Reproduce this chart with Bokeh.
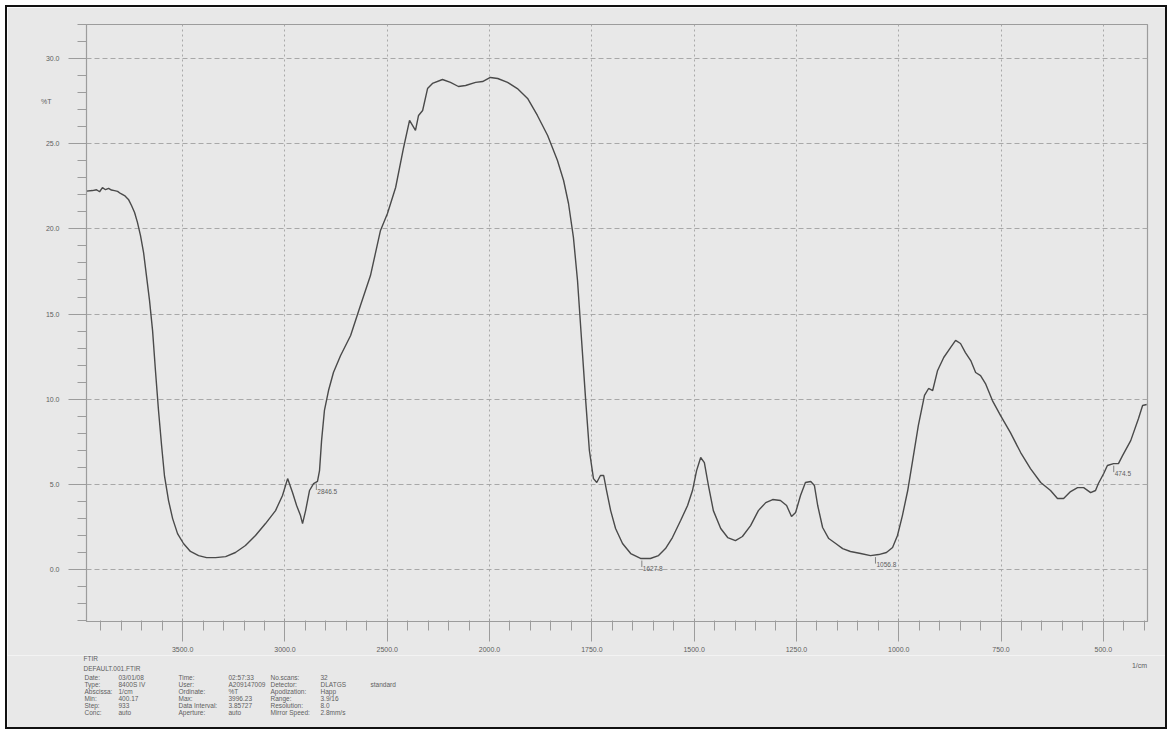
import numpy as np
from bokeh.plotting import figure
from bokeh.layouts import column
from bokeh.models import FixedTicker, LinearAxis, Range1d, ColumnDataSource
from bokeh.embed import file_html
from bokeh.resources import INLINE
from bokeh.core.properties import value

# FTIR transmittance spectrum (wavenumber in 1/cm, transmittance in %T)
wavenumber = [
    3970, 3941, 3921, 3906, 3892, 3877, 3862, 3848, 3833, 3818, 3804, 3784,
    3765, 3750, 3735, 3721, 3706, 3691, 3677, 3662, 3647, 3633, 3618, 3603,
    3589, 3569, 3549, 3525, 3496, 3462, 3422, 3383, 3339, 3290, 3242, 3193,
    3144, 3095, 3046, 3012, 2987, 2963, 2943, 2924, 2914, 2899, 2880, 2860,
    2841, 2831, 2821, 2807, 2787, 2763, 2728, 2679, 2631, 2582, 2533, 2499,
    2459, 2420, 2391, 2362, 2347, 2327, 2303, 2279, 2230, 2191, 2152, 2117,
    2068, 2034, 1998, 1980, 1956, 1932, 1907, 1883, 1858, 1834, 1819, 1807,
    1795, 1785, 1775, 1765, 1756, 1746, 1738, 1729, 1721, 1714, 1704, 1692,
    1675, 1655, 1631, 1607, 1587, 1570, 1553, 1533, 1516, 1504, 1494, 1484,
    1475, 1465, 1453, 1435, 1418, 1399, 1382, 1362, 1343, 1325, 1308, 1289,
    1274, 1262, 1252, 1240, 1228, 1215, 1206, 1198, 1186, 1171, 1154, 1137,
    1118, 1093, 1069, 1049, 1030, 1015, 1003, 991, 978, 966, 952, 937,
    927, 917, 905, 890, 873, 861, 849, 837, 824, 812, 800, 788,
    771, 751, 727, 702, 678, 653, 629, 612, 597, 580, 563, 548,
    531, 519, 512, 499, 490, 475, 463, 453, 433, 414, 404, 394,
]
transmittance = [
    22.22, 22.25, 22.30, 22.18, 22.42, 22.30, 22.38, 22.28, 22.25, 22.20, 22.08, 21.96,
    21.73, 21.37, 20.96, 20.38, 19.61, 18.61, 17.26, 15.80, 14.03, 11.69, 9.34, 7.28,
    5.52, 4.05, 2.99, 2.11, 1.53, 1.06, 0.82, 0.70, 0.70, 0.76, 1.00, 1.41,
    2.00, 2.70, 3.46, 4.35, 5.34, 4.52, 3.76, 3.17, 2.70, 3.46, 4.64, 5.05,
    5.17, 5.81, 7.57, 9.34, 10.51, 11.57, 12.57, 13.74, 15.50, 17.26, 19.91, 20.90,
    22.43, 24.78, 26.37, 25.78, 26.66, 26.95, 28.24, 28.54, 28.77, 28.60, 28.36, 28.42,
    28.60, 28.65, 28.89, 28.83, 28.60, 28.24, 27.66, 26.66, 25.48, 24.02, 22.84, 21.49,
    19.50, 16.97, 13.45, 9.92, 6.99, 5.34, 5.11, 5.52, 5.52, 4.64, 3.46, 2.41,
    1.53, 0.94, 0.65, 0.65, 0.82, 1.23, 1.88, 2.88, 3.76, 4.64, 5.81, 6.58,
    6.28, 4.93, 3.46, 2.41, 1.88, 1.70, 1.94, 2.58, 3.46, 3.93, 4.11, 4.05,
    3.76, 3.11, 3.35, 4.35, 5.11, 5.17, 4.93, 3.76, 2.47, 1.82, 1.53, 1.23,
    1.06, 0.94, 0.82, 0.88, 1.00, 1.29, 2.00, 3.17, 4.64, 6.40, 8.46, 10.22,
    10.63, 10.51, 11.69, 12.45, 13.04, 13.45, 13.27, 12.74, 12.27, 11.57, 11.39, 10.92,
    9.92, 9.04, 8.04, 6.87, 5.93, 5.11, 4.64, 4.17, 4.17, 4.58, 4.81, 4.81,
    4.52, 4.64, 5.05, 5.64, 6.11, 6.22, 6.22, 6.69, 7.57, 8.87, 9.63, 9.69,
]

# Picked peaks (wavenumber and %T at the peak)
peak_wn = [2846.5, 1627.8, 1056.8, 474.5]
peak_t = [5.17, 0.65, 0.85, 6.22]

# Axis ticks
x_tick_wn = [3500, 3000, 2500, 2000, 1750, 1500, 1250, 1000, 750, 500]
y_tick_t = [0, 5, 10, 15, 20, 25, 30]

# Instrument record printed under the chart
record_title = "DEFAULT.001.FTIR"
record_rows = [
    ["Date:", "03/01/08", "Time:", "02:57:33", "No.scans:", "32", ""],
    ["Type:", "8400S IV", "User:", "A209147009", "Detector:", "DLATGS", "standard"],
    ["Abscissa:", "1/cm", "Ordinate:", "%T", "Apodization:", "Happ", ""],
    ["Min:", "400.17", "Max:", "3996.23", "Range:", "3.9/16", ""],
    ["Step:", "933", "Data Interval:", "3.85727", "Resolution:", "8.0", ""],
    ["Conc:", "auto", "Aperture:", "auto", "Mirror Speed:", "2.8mm/s", ""],
]


def to_u(wn):
    """Split abscissa: 4000-2000 1/cm at half the scale of 2000-400 1/cm."""
    wn = np.asarray(wn, dtype=float)
    return np.where(wn >= 2000, (4000.0 - wn) / 500.0, 4.0 + (2000.0 - wn) / 250.0)


minor_wn = [w for w in range(3900, 2000, -100) if w % 500] + \
           [w for w in range(1950, 380, -50) if w % 250]

X0, X1 = float(to_u(3970)), float(to_u(392))
Y0, Y1 = -3.05, 32.0

W = 1158
H_MAIN = 648
H_INFO = 72

BG = "#e8e8e8"
AX = "#9c9c9c"
TXT = "#5e5e5e"
FONT = "Liberation Sans"
FS = "7px"

p = figure(
    width=W, height=H_MAIN,
    x_range=Range1d(X0, X1), y_range=Range1d(Y0, Y1),
    output_backend="svg", toolbar_location=None,
    min_border_left=79, min_border_right=18, min_border_top=17, min_border_bottom=34,
    background_fill_color=BG, border_fill_color=BG,
    outline_line_color=AX, outline_line_width=1.2,
)
p.frame_align = False

# x axis
xt = [float(u) for u in to_u(x_tick_wn)]
p.xaxis.ticker = FixedTicker(ticks=xt, minor_ticks=[float(u) for u in to_u(minor_wn)])
p.xaxis.major_label_overrides = {int(round(u)): f"{w:.1f}" for u, w in zip(xt, x_tick_wn)}
p.xaxis.axis_line_color = AX
p.xaxis.major_tick_line_color = AX
p.xaxis.minor_tick_line_color = AX
p.xaxis.major_tick_in = 3
p.xaxis.major_tick_out = 20
p.xaxis.minor_tick_in = 1
p.xaxis.minor_tick_out = 9
p.xaxis.major_label_standoff = 5
p.xaxis.major_label_text_font_size = FS
p.xaxis.major_label_text_color = TXT
p.xaxis.major_label_text_font = FONT

# y axis
p.yaxis.ticker = FixedTicker(ticks=y_tick_t, minor_ticks=list(range(-3, 33)))
p.yaxis.major_label_overrides = {t: f"{t:.1f}" for t in y_tick_t}
p.yaxis.axis_line_color = AX
p.yaxis.major_tick_line_color = AX
p.yaxis.minor_tick_line_color = AX
p.yaxis.major_tick_in = 0
p.yaxis.major_tick_out = 18
p.yaxis.minor_tick_in = 0
p.yaxis.minor_tick_out = 9
p.yaxis.major_label_standoff = 9
p.yaxis.major_label_text_font_size = FS
p.yaxis.major_label_text_color = TXT
p.yaxis.major_label_text_font = FONT

# ordinate unit, written beside the scale
unit_axis = LinearAxis(
    ticker=FixedTicker(ticks=[27.5]), major_label_overrides={27.5: "%T"},
    axis_line_color=None, major_tick_line_color=None, minor_tick_line_color=None,
    major_tick_in=0, major_tick_out=0, minor_tick_in=0, minor_tick_out=0,
    major_label_standoff=-9, major_label_text_font_size=FS,
    major_label_text_color=TXT, major_label_text_font=FONT,
)
p.add_layout(unit_axis, "left")

# grid
p.xgrid.ticker = FixedTicker(ticks=xt)
p.xgrid.grid_line_color = "#a8a8a8"
p.xgrid.grid_line_dash = "2 3"
p.ygrid.ticker = FixedTicker(ticks=y_tick_t)
p.ygrid.grid_line_color = "#a8a8a8"
p.ygrid.grid_line_dash = "5 3"

# spectrum
p.line(to_u(wavenumber), transmittance, line_color="#4a4a4a", line_width=1.4)

# peak markers
pu = to_u(peak_wn)
pt = np.asarray(peak_t)
p.segment(x0=pu, y0=pt - 0.12, x1=pu, y1=pt - 0.5, line_color="#6a6a6a", line_width=0.8)
p.text(x=pu, y=pt - 0.42, text=[f"{w:.1f}" for w in peak_wn],
       text_font=value(FONT), text_font_size="6.5px", text_color=TXT,
       text_baseline="top", text_align="left", x_offset=1)

# strip below the chart with the instrument record (pixel coordinates, y downward)
info = figure(
    width=W, height=H_INFO,
    x_range=Range1d(0, W), y_range=Range1d(H_INFO, 0),
    x_axis_type=None, y_axis_type=None,
    output_backend="svg", toolbar_location=None, min_border=0,
    background_fill_color=BG, border_fill_color=BG, outline_line_color=None,
)
info.grid.visible = False
info.frame_align = False

col_x = [77, 111, 171, 221, 263, 313, 363]
row_y = [22, 29, 36, 43, 50, 57]
tx, ty, tt = [76, 76], [3, 13], ["FTIR", record_title]
for y, row in zip(row_y, record_rows):
    for x, cell in zip(col_x, row):
        if cell:
            tx.append(x)
            ty.append(y)
            tt.append(cell)
info.text(x="x", y="y", text="t", source=ColumnDataSource(dict(x=tx, y=ty, t=tt)),
          text_font=value(FONT), text_font_size="6.5px", text_color=TXT,
          text_baseline="middle", text_align="left")
info.text(x=[1132], y=[10], text=["1/cm"], text_font=value(FONT), text_font_size=FS,
          text_color=TXT, text_baseline="middle", text_align="center")

page = column(p, info, spacing=0, margin=(5, 5, 5, 5),
              styles={"border": "2px solid #111111"})

open("out.html", "w").write(file_html(page, INLINE))
